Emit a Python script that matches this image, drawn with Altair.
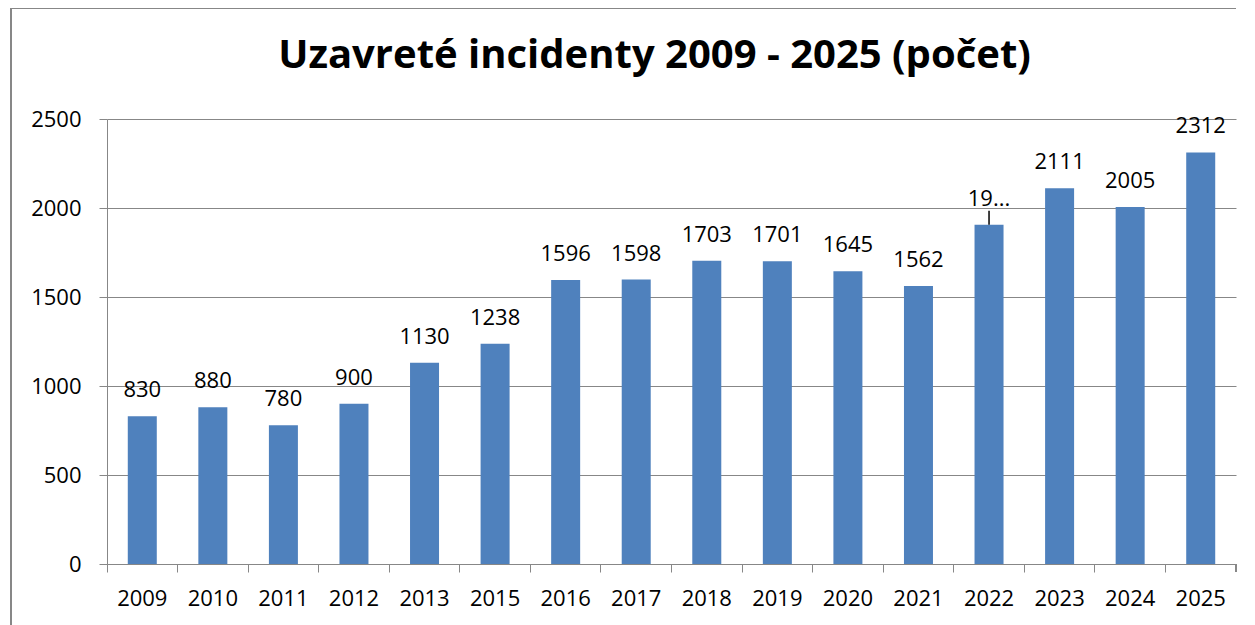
import altair as alt
import pandas as pd

years = ["2009", "2010", "2011", "2012", "2013", "2015", "2016", "2017",
         "2018", "2019", "2020", "2021", "2022", "2023", "2024", "2025"]
values = [830, 880, 780, 900, 1130, 1238, 1596, 1598,
          1703, 1701, 1645, 1562, 1906, 2111, 2005, 2312]
labels = ["830", "880", "780", "900", "1130", "1238", "1596", "1598",
          "1703", "1701", "1645", "1562", "19...", "2111", "2005", "2312"]
y_ticks = [0, 500, 1000, 1500, 2000, 2500]

df = pd.DataFrame({"year": years, "value": values, "label": labels})

W = 1129
H = 445
FONT = "Open Sans"
GRAY = "#878787"

x = alt.X("year:N", sort=years, title=None,
          scale=alt.Scale(paddingInner=0, paddingOuter=0),
          axis=alt.Axis(bandPosition=0, labelAngle=0, labelFontSize=22, labelFont=FONT,
                        labelColor="black", tickSize=8, tickColor=GRAY, domainColor=GRAY,
                        labelPadding=16, grid=False))
y = alt.Y("value:Q", title=None,
          scale=alt.Scale(domain=[0, 2500], nice=False),
          axis=alt.Axis(values=y_ticks, format="d", labelFontSize=22, labelFont=FONT,
                        labelColor="black", tickSize=8, tickColor=GRAY, domainColor=GRAY,
                        gridColor=GRAY, labelPadding=18, grid=True))

base = alt.Chart(df)
bars = base.mark_bar(width=29, color="#4F81BD").encode(x=x, y=y)
text = base.mark_text(baseline="alphabetic", dy=-19, fontSize=22, font=FONT,
                      color="black").encode(x=alt.X("year:N", sort=years), y="value:Q",
                                            text="label:N")
leader = base.transform_filter(alt.datum.year == "2022").mark_rule(
    color="black", strokeWidth=1.5, y2Offset=-14).encode(
    x=alt.X("year:N", sort=years), y="value:Q", y2="value:Q")

end_tick = alt.Chart(df).mark_rule(color=GRAY).encode(
    x=alt.value(W), y=alt.value(H), y2=alt.value(H + 8))
frame_left = alt.Chart(df).mark_rule(color=GRAY, strokeWidth=1.5).encode(
    x=alt.value(-96), y=alt.value(-111), y2=alt.value(520))
frame_top = alt.Chart(df).mark_rule(color=GRAY, strokeWidth=1.5).encode(
    x=alt.value(-96), x2=alt.value(W), y=alt.value(-111))

chart = alt.layer(bars, text, leader, end_tick, frame_left, frame_top).properties(
    width=W, height=H,
    title=alt.TitleParams("Uzavreté incidenty 2009 - 2025 (počet)", font=FONT,
                          fontSize=40, fontWeight="bold", color="black",
                          anchor="middle", frame="group", baseline="alphabetic",
                          dx=-17, offset=-101),
    padding={"left": 99, "top": 111, "right": 11, "bottom": 70},
    autosize=alt.AutoSizeParams(type="none"),
).configure_view(stroke=None)

chart.save("out.html", embed_options={"renderer": "svg", "actions": False})
